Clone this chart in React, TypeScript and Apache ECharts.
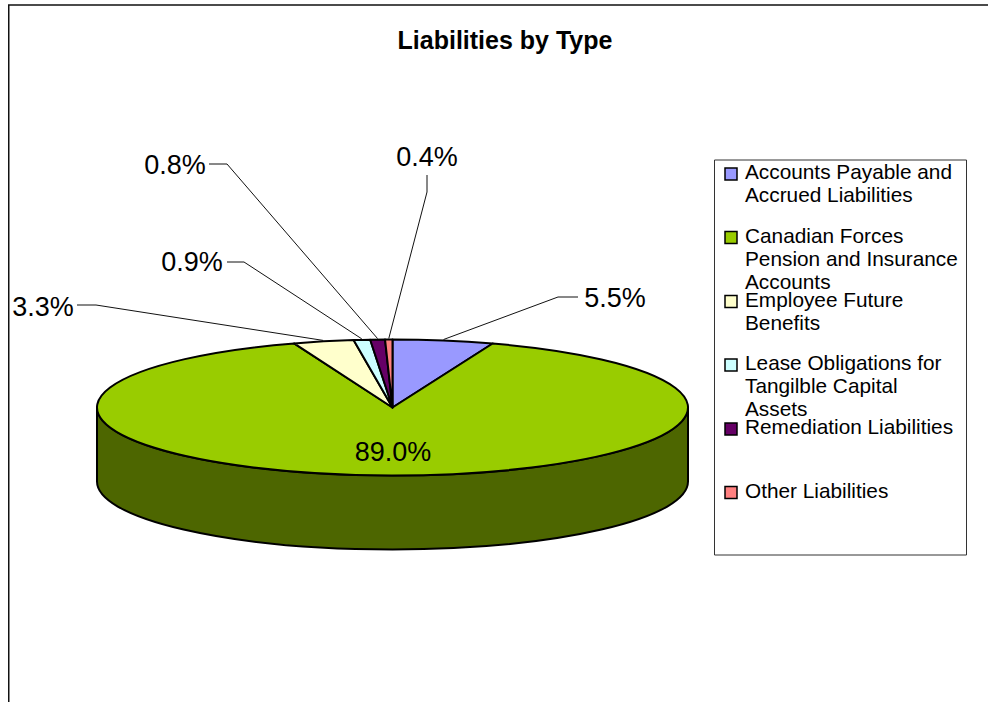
import React, { useEffect, useRef } from "react";
import * as echarts from "echarts";

const chartTitle = "Liabilities by Type";
const categories = [
  "Accounts Payable and\nAccrued Liabilities",
  "Canadian Forces\nPension and Insurance\nAccounts",
  "Employee Future\nBenefits",
  "Lease Obligations for\nTangilble Capital\nAssets",
  "Remediation Liabilities",
  "Other Liabilities",
];
const shares = [5.5, 89.0, 3.3, 0.9, 0.8, 0.4];
const colors = ["#9999ff", "#99cc00", "#ffffcc", "#ccffff", "#660066", "#ff8080"];
const wallColor = "#4d6600";

const FONT = '"Liberation Sans", Arial, sans-serif';
// Ellipse of the pie's top face and the depth of its wall.
const CX = 392.5;
const CY = 407.5;
const RX = 295.5;
const RY = 68;
const DEPTH = 74;

// Where each value label sits: text centre, then the elbow of its leader.
const labelSpots: { x: number; y: number; path: number[][] }[] = [
  { x: 615, y: 298, path: [[578, 297], [558, 297]] },
  { x: 393, y: 452, path: [] },
  { x: 43, y: 307, path: [[77, 305], [96, 305]] },
  { x: 192, y: 262, path: [[227, 262], [244, 262]] },
  { x: 175, y: 165, path: [[209, 164], [227, 164]] },
  { x: 427, y: 157, path: [[427, 175], [427, 192]] },
];

const total = shares.reduce((a, b) => a + b, 0);
const rimPoint = (fraction: number, grow = 0) => {
  const a = fraction * Math.PI * 2;
  return [CX + (RX + grow) * Math.sin(a), CY - (RY + grow) * Math.cos(a)];
};

function renderSlice(params: any, api: any) {
  const i = params.dataIndex;
  const before = shares.slice(0, i).reduce((a, b) => a + b, 0);
  const from = before / total;
  const to = (before + api.value(0)) / total;
  const [x0, y0] = rimPoint(from);
  const [x1, y1] = rimPoint(to);
  const large = to - from > 0.5 ? 1 : 0;
  const children: any[] = [];

  // The wall only shows where a slice crosses the front half of the ellipse.
  if (from < 0.5 && to > 0.5) {
    children.push({
      type: "path",
      shape: {
        pathData:
          `M${CX + RX} ${CY}A${RX} ${RY} 0 0 1 ${CX - RX} ${CY}` +
          `L${CX - RX} ${CY + DEPTH}A${RX} ${RY} 0 0 0 ${CX + RX} ${CY + DEPTH}Z`,
      },
      style: { fill: wallColor, stroke: "#000", lineWidth: 2, lineJoin: "round" },
    });
  }
  children.push({
    type: "path",
    shape: {
      pathData: `M${CX} ${CY}L${x0} ${y0}A${RX} ${RY} 0 ${large} 1 ${x1} ${y1}Z`,
    },
    style: { fill: colors[i], stroke: "#000", lineWidth: 2, lineJoin: "round" },
  });

  const spot = labelSpots[i];
  if (spot.path.length) {
    children.push({
      type: "polyline",
      shape: { points: [...spot.path, rimPoint((from + to) / 2, 1)] },
      style: { fill: "none", stroke: "#111", lineWidth: 1 },
    });
  }
  children.push({
    type: "text",
    style: {
      text: `${api.value(0).toFixed(1)}%`,
      x: spot.x,
      y: spot.y,
      align: "center",
      verticalAlign: "middle",
      fontFamily: FONT,
      fontSize: 27,
      fill: "#000",
    },
  });
  return { type: "group", children };
}

const legendTops = [174, 237.5, 301.5, 365, 429, 492.5];

function legendElements() {
  const items: any[] = [
    {
      type: "rect",
      shape: { x: 714.5, y: 160, width: 252, height: 395 },
      style: { fill: "#fff", stroke: "#333", lineWidth: 1 },
    },
  ];
  categories.forEach((name, i) => {
    items.push({
      type: "rect",
      shape: { x: 725, y: legendTops[i] - 6, width: 12, height: 12 },
      style: { fill: colors[i], stroke: "#000", lineWidth: 1.5 },
    });
    items.push({
      type: "text",
      x: 745,
      y: legendTops[i] - 13.5,
      style: {
        text: name,
        fontFamily: FONT,
        fontSize: 20.8,
        lineHeight: 22.8,
        fill: "#000",
        align: "left",
        verticalAlign: "top",
      },
    });
  });
  return items;
}

export default function App() {
  const ref = useRef<HTMLDivElement>(null);
  useEffect(() => {
    const chart = echarts.init(ref.current!, null, { renderer: "svg" });
    chart.setOption({
      animation: false,
      backgroundColor: "#fff",
      title: {
        text: chartTitle,
        left: 505,
        top: 22,
        textAlign: "center",
        textStyle: { fontFamily: FONT, fontSize: 25, fontWeight: "bold", color: "#000" },
      },
      graphic: [
        {
          type: "rect",
          shape: { x: 8.75, y: 5, width: 1100, height: 800 },
          style: { fill: "none", stroke: "#111", lineWidth: 1.5 },
        },
        ...legendElements(),
      ],
      series: [
        {
          type: "custom",
          coordinateSystem: "none",
          silent: true,
          clip: false,
          renderItem: renderSlice,
          data: shares.map((v, i) => ({ name: categories[i], value: [v] })),
        },
      ],
    });
    chart.setOption({ title: { left: 500 } });
    return () => chart.dispose();
  }, []);
  return (
    <div
      ref={ref}
      style={{ position: "fixed", left: 0, top: 0, width: 988, height: 702 }}
    />
  );
}
